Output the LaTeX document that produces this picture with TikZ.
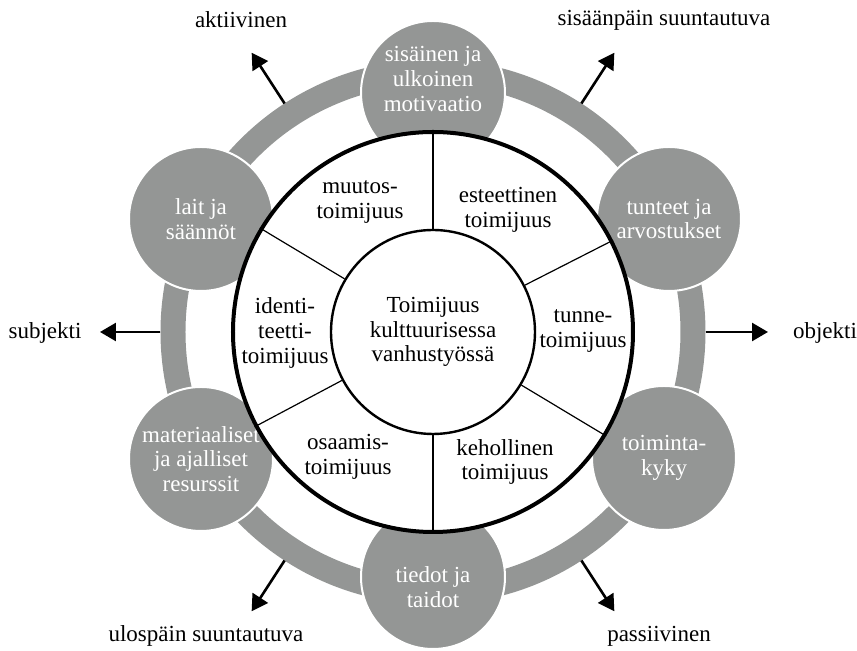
\documentclass[tikz,border=0pt]{standalone}
\usepackage{fontspec}
\setmainfont{Liberation Serif}
\usepackage{xcolor}
\usetikzlibrary{arrows.meta}

\definecolor{ringgray}{RGB}{148,150,149}
\newcommand\diagfont{\fontsize{11.5}{12.4}\selectfont}

\tikzset{
  factor/.style={circle, fill=ringgray, draw=white, line width=1pt, minimum size=72pt,
    inner sep=0pt, text=white, align=center, font=\diagfont},
  factortext/.style={text=white, align=center, font=\diagfont},
  sector/.style={align=center, font=\diagfont},
  direction/.style={font=\diagfont},
  outarrow/.style={-{Triangle[length=8pt,width=9pt]}, line width=1.3pt},
}

\begin{document}
\begin{tikzpicture}[x=0.5pt,y=0.5pt]
\useasboundingbox (-433,-319) rectangle (424,332);

% Grey ring
\node[circle, draw=ringgray, line width=12.5pt, minimum size=260pt, inner sep=0pt] (ring) at (0,0) {};

% Factors on the ring
\node[factor, label={[factortext, yshift=7pt]center:{sisäinen ja\\ulkoinen\\motivaatio}}] (motivaatio) at (0,239) {};
\node[factor] (tunteet) at (236,113) {tunteet ja\\arvostukset};
\node[factor] (toimintakyky) at (231,-126) {toiminta-\\kyky};
\node[factor, label={[factortext, yshift=-5pt]center:{tiedot ja\\taidot}}] (tiedot) at (0,-245) {};
\node[factor] (resurssit) at (-232,-127) {materiaaliset\\ja ajalliset\\resurssit};
\node[factor] (lait) at (-232,113) {lait ja\\säännöt};

% Wheel
\node[circle, draw, line width=2pt, fill=white, minimum size=200pt, inner sep=0pt] (rim) at (0,0) {};
\node[circle, draw, line width=1.2pt, minimum size=102pt, inner sep=0pt, align=center, font=\diagfont] (core) at (0,0) {Toimijuus\\kulttuurisessa\\vanhustyössä};

% Dividers
\draw[line width=0.6pt] (core.90) -- (rim.90);
\draw[line width=0.6pt] (core.27) -- (rim.27);
\draw[line width=0.6pt] (core.-31) -- (rim.-31);
\draw[line width=0.6pt] (core.270) -- (rim.270);
\draw[line width=0.6pt] (core.208) -- (rim.208);
\draw[line width=0.6pt] (core.149) -- (rim.149);

% Sectors
\node[sector] (muutos) at (-73,130) {muutos-\\toimijuus};
\node[sector] (esteettinen) at (75,122) {esteettinen\\toimijuus};
\node[sector] (tunne) at (150,1) {tunne-\\toimijuus};
\node[sector] (kehollinen) at (72,-130) {kehollinen\\toimijuus};
\node[sector] (osaamis) at (-85,-125) {osaamis-\\toimijuus};
\node[sector] (identiteetti) at (-148,-1) {identi-\\teetti-\\toimijuus};

% Directions
\coordinate (aktiivinentip) at (123:333);
\coordinate (sisaanpaintip) at (57:333);
\coordinate (subjektitip) at (180:333);
\coordinate (objektitip) at (0:335);
\coordinate (ulospaintip) at (237:333);
\coordinate (passiivinentip) at (303:333);
\draw[outarrow] (ring.123) -- (aktiivinentip);
\draw[outarrow] (ring.57) -- (sisaanpaintip);
\draw[outarrow] (ring.180) -- (subjektitip);
\draw[outarrow] (ring.0) -- (objektitip);
\draw[outarrow] (ring.237) -- (ulospaintip);
\draw[outarrow] (ring.303) -- (passiivinentip);

% Labels
\node[direction] (aktiivinen) at (-192,312) {aktiivinen};
\node[direction] (sisaanpain) at (231,312) {sisäänpäin suuntautuva};
\node[direction] (subjekti) at (-388,-1) {subjekti};
\node[direction] (objekti) at (392,-1) {objekti};
\node[direction] (ulospain) at (-227,-304) {ulospäin suuntautuva};
\node[direction] (passiivinen) at (226,-304) {passiivinen};
\end{tikzpicture}
\end{document}
